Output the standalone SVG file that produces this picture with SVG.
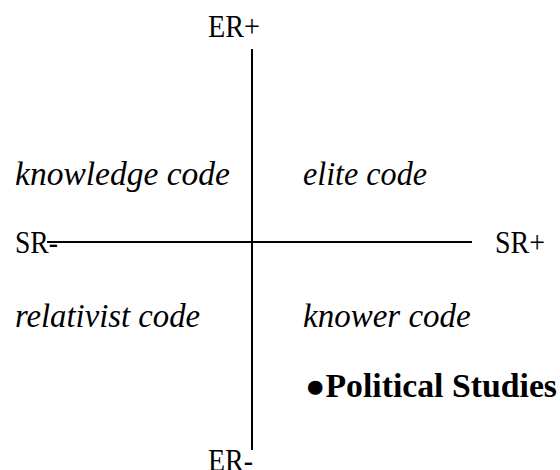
<svg xmlns="http://www.w3.org/2000/svg" width="560" height="470" viewBox="0 0 560 470">
<style>
text{font-family:"Liberation Serif","DejaVu Serif",serif;font-size:31px;fill:#000}
.i{font-style:italic;font-size:33px}
.b{font-weight:bold;font-size:33px}
line{stroke:#000;stroke-width:2}
</style>
<rect width="560" height="470" fill="#fff"/>
<g id="connectors">
<line x1="252" y1="49" x2="252" y2="450"/>
<line x1="47" y1="242" x2="472" y2="242"/>
</g>
<g id="er-plus"><text x="208" y="37" textLength="52" lengthAdjust="spacingAndGlyphs">ER+</text></g>
<g id="er-minus"><text x="208" y="471" textLength="45" lengthAdjust="spacingAndGlyphs">ER-</text></g>
<g id="sr-minus"><text x="15" y="253" textLength="43" lengthAdjust="spacingAndGlyphs">SR-</text></g>
<g id="sr-plus"><text x="495" y="253" textLength="50" lengthAdjust="spacingAndGlyphs">SR+</text></g>
<g id="knowledge-code"><text class="i" x="15" y="185" textLength="215" lengthAdjust="spacingAndGlyphs">knowledge code</text></g>
<g id="elite-code"><text class="i" x="303" y="185" textLength="124" lengthAdjust="spacingAndGlyphs">elite code</text></g>
<g id="relativist-code"><text class="i" x="15" y="327" textLength="185" lengthAdjust="spacingAndGlyphs">relativist code</text></g>
<g id="knower-code"><text class="i" x="303" y="327">knower code</text></g>
<g id="political-studies"><text class="b" x="305" y="397" textLength="252" lengthAdjust="spacingAndGlyphs">●Political Studies</text></g>
</svg>
